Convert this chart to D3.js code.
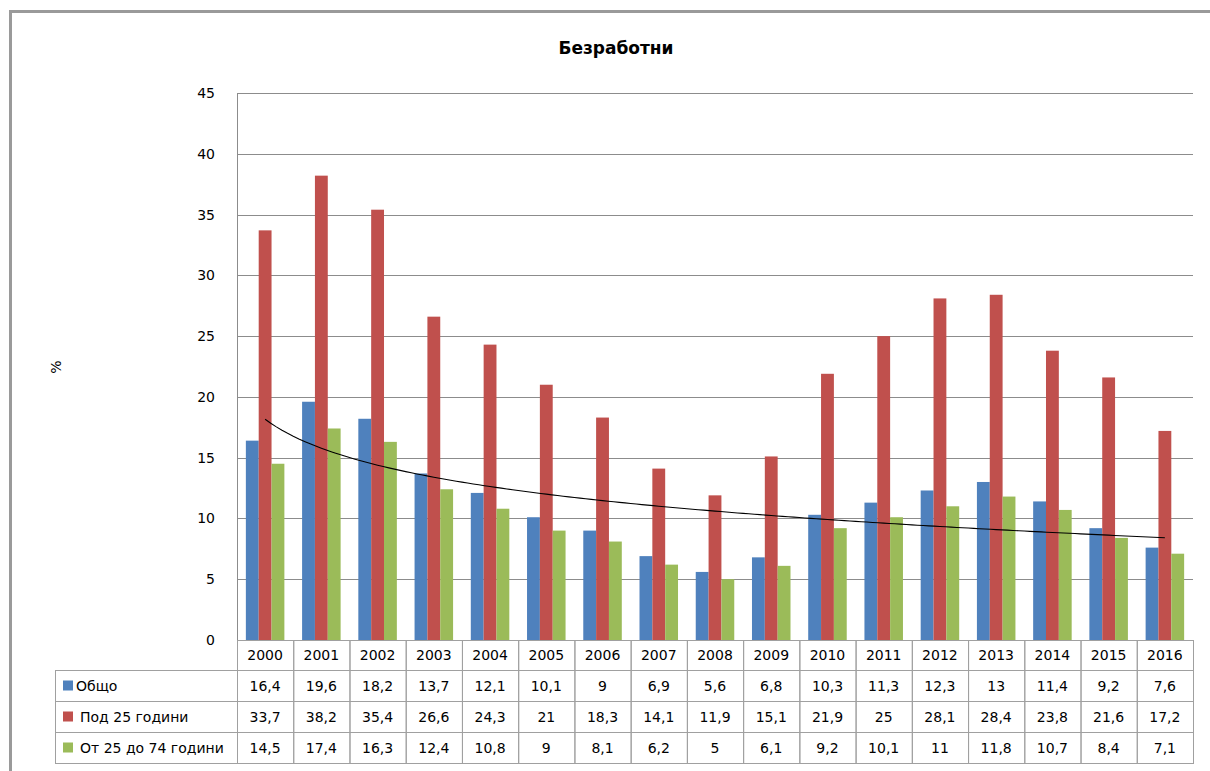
<!DOCTYPE html>
<html><head><meta charset="utf-8">
<script src="https://cdn.jsdelivr.net/npm/d3@7"></script>
<style>
body{margin:0;background:#fff;}
svg{display:block;font-family:"DejaVu Sans",sans-serif;}
</style></head>
<body><svg id="c" width="1210" height="771"></svg>
<script>
const title = "Безработни";
const yLabel = "%";
const years = ["2000","2001","2002","2003","2004","2005","2006","2007","2008","2009","2010","2011","2012","2013","2014","2015","2016"];
const seriesNames = ["Общо","Под 25 години","От 25 до 74 години"];
const total = [16.4,19.6,18.2,13.7,12.1,10.1,9,6.9,5.6,6.8,10.3,11.3,12.3,13,11.4,9.2,7.6];
const under25 = [33.7,38.2,35.4,26.6,24.3,21,18.3,14.1,11.9,15.1,21.9,25,28.1,28.4,23.8,21.6,17.2];
const from25to74 = [14.5,17.4,16.3,12.4,10.8,9,8.1,6.2,5,6.1,9.2,10.1,11,11.8,10.7,8.4,7.1];
const yTicks = [0,5,10,15,20,25,30,35,40,45];
const colors = ["#4F81BD","#C0504D","#9BBB59"];

const series = [total, under25, from25to74];
const svg = d3.select("#c");

// outer frame
svg.append("path").attr("d","M10.5,771 V11.5 H1210").attr("fill","none").attr("stroke","#9a9a9a").attr("stroke-width",3);

const L=237, R=1193, T=93, B=640;
const x = d3.scaleBand().domain(years).range([L,R]).paddingInner(0).paddingOuter(0);
const x1 = d3.scaleBand().domain(d3.range(3)).range([0,x.bandwidth()]).paddingOuter(0.69).paddingInner(0);
const y = d3.scaleLinear().domain([0,45]).range([B,T]);

// grid
svg.append("g").selectAll("line").data(yTicks.slice(1)).join("line")
  .attr("x1",L).attr("x2",R).attr("y1",d=>Math.round(y(d))+0.5).attr("y2",d=>Math.round(y(d))+0.5)
  .attr("stroke","#8c8c8c").attr("stroke-width",1);

// y axis labels
const yAxis = d3.axisLeft(y).tickValues(yTicks).tickSize(0).tickPadding(22).tickFormat(d=>d);
const gy = svg.append("g").attr("transform",`translate(${L},0)`).call(yAxis);
gy.select(".domain").remove();
gy.selectAll("text").attr("font-size",14).attr("fill","#000").attr("font-family","DejaVu Sans");

// bars
const gb = svg.append("g");
years.forEach((yr,i)=>{
  series.forEach((s,k)=>{
    gb.append("rect").attr("x",x(yr)+x1(k)).attr("width",x1.bandwidth())
      .attr("y",y(s[i])).attr("height",B-y(s[i])).attr("fill",colors[k]);
  });
});

// trendline: logarithmic fit of total
const xs = total.map((d,i)=>Math.log(i+1));
const mx = d3.mean(xs), my = d3.mean(total);
const b = d3.sum(xs.map((v,i)=>(v-mx)*(total[i]-my)))/d3.sum(xs.map(v=>(v-mx)*(v-mx)));
const a = my - b*mx;
const tpts = d3.range(1,17.01,0.1).map(t=>[x(years[0])+x.bandwidth()/2 + (t-1)*x.step(), y(a+b*Math.log(t))]);
svg.append("path").attr("d",d3.line()(tpts)).attr("fill","none").attr("stroke","#000").attr("stroke-width",1.1);

// left axis line
svg.append("line").attr("x1",L+0.5).attr("x2",L+0.5).attr("y1",T).attr("y2",B).attr("stroke","#8c8c8c");

// data table
const rowH = 31, headTop = B, headH = 30, tblL = 55;
const tg = svg.append("g");
const gridC = "#a0a0a0";
const fs = 14;
years.forEach(yr=>{
  tg.append("rect").attr("x",x(yr)+0.5).attr("y",headTop+0.5).attr("width",x.bandwidth()).attr("height",headH).attr("fill","none").attr("stroke",gridC);
  tg.append("text").attr("x",x(yr)+x.bandwidth()/2).attr("y",headTop+headH/2+5).attr("text-anchor","middle").attr("font-size",fs).text(yr);
});
series.forEach((s,k)=>{
  const ry = headTop+headH+k*rowH;
  tg.append("rect").attr("x",tblL+0.5).attr("y",ry+0.5).attr("width",L-tblL).attr("height",rowH).attr("fill","none").attr("stroke",gridC);
  tg.append("rect").attr("x",tblL+8).attr("y",ry+rowH/2-5).attr("width",10).attr("height",10).attr("fill",colors[k]);
  tg.append("text").attr("x",tblL+(k===0?21:25)).attr("y",ry+rowH/2+5).attr("font-size",fs).text(seriesNames[k]);
  years.forEach((yr,i)=>{
    tg.append("rect").attr("x",x(yr)+0.5).attr("y",ry+0.5).attr("width",x.bandwidth()).attr("height",rowH).attr("fill","none").attr("stroke",gridC);
    tg.append("text").attr("x",x(yr)+x.bandwidth()/2).attr("y",ry+rowH/2+5).attr("text-anchor","middle").attr("font-size",fs)
      .text(String(s[i]).replace(".",","));
  });
});

// title and y label
svg.append("text").attr("x",616).attr("y",54).attr("text-anchor","middle").attr("font-weight","bold").attr("font-size",17).text(title);
svg.append("text").attr("transform","translate(61,367) rotate(-90)").attr("text-anchor","middle").attr("font-size",14).text(yLabel);
</script></body></html>
